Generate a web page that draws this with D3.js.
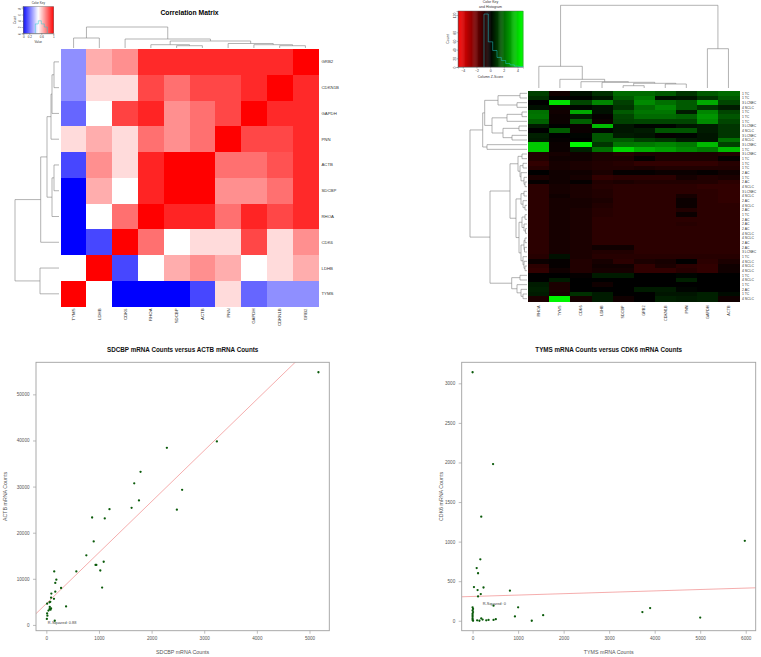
<!DOCTYPE html>
<html>
<head>
<meta charset="utf-8">
<script src="https://cdn.jsdelivr.net/npm/d3@7"></script>
<style>
  body { margin: 0; background: #fff; }
  svg { display: block; font-family: "Liberation Sans", Arial, sans-serif; }
</style>
</head>
<body>
<svg id="fig" width="761" height="657"></svg>
<script>
// ---------- correlation matrix (top left) ----------
const corrCols = ["TYMS", "LDHB", "CDK6", "RHOA", "SDCBP", "ACTB", "PNN", "GAPDH", "CDKN1B", "GRB2"];
const corrRows = ["GRB2", "CDKN1B", "GAPDH", "PNN", "ACTB", "SDCBP", "RHOA", "CDK6", "LDHB", "TYMS"];
const corrValues = [
  [0.28, 0.66, 0.72, 0.92, 0.92, 0.92, 0.92, 0.92, 0.92, 1.00],
  [0.28, 0.57, 0.57, 0.86, 0.78, 0.86, 0.86, 0.92, 1.00, 0.92],
  [0.20, 0.50, 0.87, 0.93, 0.72, 0.78, 0.86, 1.00, 0.92, 0.92],
  [0.57, 0.66, 0.57, 0.78, 0.72, 0.78, 1.00, 0.86, 0.86, 0.92],
  [0.14, 0.72, 0.57, 0.93, 1.00, 1.00, 0.78, 0.78, 0.84, 0.92],
  [0.00, 0.66, 0.50, 0.93, 1.00, 1.00, 0.72, 0.72, 0.78, 0.92],
  [0.00, 0.50, 0.78, 1.00, 0.93, 0.93, 0.78, 0.93, 0.86, 0.92],
  [0.00, 0.14, 1.00, 0.78, 0.50, 0.57, 0.57, 0.86, 0.57, 0.72],
  [0.50, 1.00, 0.14, 0.50, 0.66, 0.72, 0.66, 0.50, 0.57, 0.66],
  [1.00, 0.50, 0.00, 0.00, 0.00, 0.14, 0.57, 0.20, 0.28, 0.28]
];
// dendrograms as [height, left, right], leaves are indices
const corrColTree = [21, [10, 0, 1], [9, 2, [7, [3.3, 3, [2.3, 4, 5]], [4.5, 6, [3.3, 7, [2.3, 8, 9]]]]]];
const corrRowTree = [44, [18.3, [12, [8, [7, [5, 0, 1], 2], 3], [7, [5, 4, 5], 6]], 7], [19, 8, 9]];
const corrKeyTicks = [0, 0.2, 0.6, 1];
const corrKeyCountTicks = [0, 2, 4, 6, 8];
const corrKeyHistEdges = [0.4, 0.5, 0.6, 0.7, 0.8];
const corrKeyHistCounts = [3, 4, 3, 2];

// ---------- z-score heatmap (top right) ----------
const zCols = ["RHOA", "TYMS", "CDK6", "LDHB", "SDCBP", "GRB2", "CDKN1B", "PNN", "GAPDH", "ACTB"];
const zRowLabels = [
  "1 TC", "1 TC", "3 LCNEC", "4 SCLC", "1 TC", "1 TC", "1 TC", "3 LCNEC", "4 SCLC", "3 LCNEC",
  "4 SCLC", "3 LCNEC", "1 TC", "3 LCNEC", "1 TC", "1 TC", "1 TC", "2 AC", "1 TC", "2 AC",
  "4 SCLC", "3 LCNEC", "4 SCLC", "2 AC", "4 SCLC", "2 AC", "1 TC", "2 AC", "2 AC", "2 AC",
  "4 SCLC", "4 SCLC", "2 AC", "2 AC", "3 LCNEC", "1 TC", "4 SCLC", "4 SCLC", "4 SCLC", "1 TC",
  "4 SCLC", "1 TC", "2 AC", "1 TC", "4 SCLC"
];
const zValues = [
  [1.2, -0.3, 0.3, 0.9, 2.0, 2.0, 1.7, 1.0, 1.7, 2.0],
  [0.9, 0.0, 0.0, 0.4, 1.7, 2.3, 0.3, 0.4, 1.0, 1.7],
  [0.0, 4.2, 1.3, 2.5, 1.2, 2.6, 2.1, 1.7, 3.2, 1.3],
  [0.3, -0.2, 0.1, 0.3, 1.0, 2.0, 2.5, 1.7, 1.0, 0.5],
  [2.1, -0.3, 3.2, 0.3, 1.7, 2.2, 2.2, 0.5, 2.5, 1.3],
  [2.2, -0.2, 0.5, -0.1, 1.3, 2.0, 2.0, 1.8, 2.8, 1.6],
  [1.8, -0.2, 1.8, -0.2, 1.2, 1.3, 1.3, 1.3, 2.6, 1.3],
  [0.5, 0.0, -0.2, 3.5, 0.4, 0.1, 0.1, 0.4, 0.5, 1.0],
  [0.0, 1.7, -0.2, 0.1, 0.4, 0.5, 1.6, 1.6, 0.5, 1.0],
  [0.6, 0.0, 0.1, 1.6, 0.5, 0.4, -0.1, 0.1, 0.4, 1.0],
  [0.5, -0.1, 0.0, 1.6, 1.7, 1.2, 1.0, 0.5, 0.4, 2.1],
  [3.8, -0.2, 4.7, 1.0, 2.2, 2.3, 2.5, 2.3, 3.5, 1.2],
  [3.8, -0.2, 0.6, 2.1, 4.0, 3.3, 3.0, 2.6, 2.3, 3.5],
  [-0.6, -0.4, -0.3, -0.5, -0.7, -0.5, -0.5, -0.5, -0.5, -0.6],
  [-0.6, -0.3, -0.3, -0.5, -0.5, -0.1, -0.5, -0.5, -0.5, -0.1],
  [-0.9, -0.4, -0.5, -0.6, -0.7, -0.9, -0.9, -0.9, -0.9, -0.7],
  [-0.7, -0.4, -0.5, -0.6, -0.6, -0.5, -0.6, -0.6, -0.6, -0.6],
  [0.0, -0.3, -0.3, -0.5, -0.1, -0.1, -0.2, -0.2, -0.1, -0.3],
  [-0.5, -0.3, -0.4, -0.9, -0.8, -0.8, -0.8, -0.4, -0.6, -0.5],
  [-0.1, -0.3, -0.1, -0.6, -0.5, -0.6, -0.6, -0.6, -0.6, -0.8],
  [-0.8, -0.4, -0.5, -0.7, -0.8, -0.8, -0.8, -0.8, -0.9, -0.9],
  [-0.8, -0.4, -0.5, -0.6, -0.8, -0.8, -0.8, -0.8, -0.8, -0.9],
  [-0.8, -0.3, -0.5, -0.6, -0.8, -0.8, -0.8, -0.4, -0.8, -0.9],
  [-0.8, -0.4, -0.4, -0.5, -0.8, -0.8, -0.8, -0.2, -0.8, -0.9],
  [-0.8, -0.4, -0.4, -0.6, -0.8, -0.8, -0.8, -0.2, -0.8, -0.8],
  [-0.8, -0.4, -0.5, -0.7, -0.8, -0.8, -0.8, -0.6, -0.8, -0.8],
  [-0.8, -0.4, -0.5, -0.7, -0.8, -0.8, -0.8, -0.2, -0.8, -0.8],
  [-0.8, -0.4, -0.5, -0.8, -0.8, -0.8, -0.8, -0.8, -0.8, -0.8],
  [-0.8, -0.4, -0.5, -0.8, -0.8, -0.8, -0.8, -0.7, -0.8, -0.8],
  [-0.8, -0.4, -0.5, -0.8, -0.8, -0.8, -0.8, -0.8, -0.8, -0.8],
  [-0.8, -0.4, -0.5, -0.8, -0.8, -0.8, -0.8, -0.8, -0.8, -0.8],
  [-0.8, -0.4, -0.5, -0.8, -0.8, -0.8, -0.8, -0.8, -0.8, -0.8],
  [-0.8, -0.4, -0.5, -0.8, -0.8, -0.8, -0.8, -0.8, -0.8, -0.8],
  [-0.8, -0.4, -0.5, -0.3, -0.3, -0.8, -0.8, -0.8, -0.8, -0.8],
  [-0.8, -0.4, -0.5, -0.6, -0.6, -0.8, -0.8, -0.8, -0.8, -0.8],
  [-0.7, 0.3, -0.5, -0.7, -0.7, -0.7, -0.7, -0.7, -0.7, -0.7],
  [-0.2, -0.1, -0.6, -0.4, -0.8, -0.5, -0.4, 0.0, -0.8, -0.5],
  [-0.8, -0.1, -0.6, -0.3, -0.3, -0.9, -0.5, -0.8, -0.9, -0.3],
  [-0.9, -0.3, -0.6, -0.4, -0.4, -0.9, -0.9, -0.7, -0.9, -0.3],
  [0.0, 0.0, -0.1, 0.5, 0.5, 0.0, 0.0, 0.1, 0.0, 0.0],
  [0.0, 0.5, 0.0, 0.0, 0.0, 0.0, 0.0, 0.6, 0.0, 0.0],
  [0.5, -0.5, 0.0, -0.3, 0.0, 0.0, 0.0, 0.0, 0.0, 0.0],
  [0.6, -0.5, 0.0, 0.0, 0.0, 0.5, 0.5, 0.1, 0.0, 0.0],
  [0.5, -0.4, 0.9, 0.5, 0.0, 0.0, 0.4, 0.4, 0.6, 0.2],
  [-0.5, 4.6, -0.4, 0.5, -0.3, 0.0, 0.6, 0.5, 0.6, -0.3]
];
const zColTree = [82.7, [21.7, 0, [8.7, 1, [6.3, 2, [5.7, 3, [4.7, [2.3, 4, 5], [4, 6, 7]]]]]], [39.3, 8, 9]];
const zRowTree = [57,
  [44.3,
    [42.3, [29, [7, 0, 1], [10, 2, 3]], [35, [20, [5, 4, 5], 6], [24, [8, 7, 8], [15, 9, 10]]]],
    [40, 11, 12]],
  [37,
    [17,
      [9, [5, 13, 14], [7, [4, 15, 16], [6, 17, [3, 18, [2, 19, 20]]]]],
      [11, [6, [3, 21, 22], [4, 23, [2, 24, 25]]],
        [8, [5, [2, 26, 27], [3, 28, [1.5, 29, 30]]],
          [6, [3, [2, 31, 32], [2.5, 33, 34]], [4, 35, [3, 36, [2, 37, 38]]]]]]],
    [15.3, [7, 39, 40], [10, 41, [6, 42, [4, 43, 44]]]]]
];
const zKeyRange = [-4.7, 4.8];
const zKeyTicks = [-4, -2, 0, 2, 4];
const zKeyCountTicks = [0, 20, 40, 60, 80, 120];
const zKeyHistEdges = [-0.9, -0.27, 0.37, 1.0, 1.63, 2.27, 2.9, 3.53, 4.17, 4.8];
const zKeyHistCounts = [122, 58, 38, 22, 15, 8, 5, 2, 1];

// ---------- scatter: SDCBP vs ACTB (bottom left) ----------
const sdcbpCounts = [5170, 3240, 2290, 1790, 1670, 1760, 2580, 2480, 1620, 1200, 870, 1110, 900, 760,
  935, 950, 1090, 1025, 1060, 570, 375, 150, 190, 170, 280, 95, 170, 145, 90, 60, 75, 15, 65, 90, 60,
  80, 40, 15, 20, 10, 160];
const actbCounts = [54800, 39800, 38400, 33200, 30700, 27000, 29300, 25000, 25400, 25100, 23300, 23100,
  18100, 15100, 13000, 13000, 13700, 11800, 8100, 11600, 4000, 11600, 9800, 9100, 8000, 6800, 7200,
  5650, 5900, 4900, 5000, 4600, 3900, 3600, 3400, 3300, 3100, 2500, 2000, 1300, 900];
const sdcbpFit = [4620, 11.07]; // intercept, slope
const sdcbpRSquared = "R-Squared:  0.88";
const sdcbpXTicks = [0, 1000, 2000, 3000, 4000, 5000];
const actbYTicks = [0, 10000, 20000, 30000, 40000, 50000];

// ---------- scatter: TYMS vs CDK6 (bottom right) ----------
const tymsCounts = [0, 450, 190, 170, 90, 120, 30, 240, 110, 180, 120, 820, 460, 1000, 930, 1550,
  1300, 3730, 3900, 5000, 5980, 0, 10, 0, 10, 0, 0, 0, 0, 0, 10, 100, 150, 190, 220, 300, 350, 460, 510];
const cdk6Counts = [3140, 1980, 1315, 776, 666, 600, 426, 420, 388, 337, 308, 380, 190, 170, 55, 70,
  0, 110, 160, 40, 1010, 170, 150, 130, 110, 90, 70, 50, 30, 10, 0, 5, 0, 30, 15, 5, 10, 10, 20];
const tymsFit = [307, 0.0176];
const tymsRSquared = "R-Squared:  0";
const tymsXTicks = [0, 1000, 2000, 3000, 4000, 5000, 6000];
const cdk6YTicks = [0, 500, 1000, 1500, 2000, 2500, 3000];

const svg = d3.select("#fig");
const labelColor = "#333";

const toNode = (t) =>
  typeof t === "number" ? { leaf: t, h: 0 } : { h: t[0], children: [toNode(t[1]), toNode(t[2])] };

// draws an hclust style dendrogram; leafPos maps leaf index, hPos maps height
function drawTree(tree, leafPos, hPos, orient) {
  const root = d3.hierarchy(toNode(tree));
  root.eachAfter((n) => {
    n.p = n.children ? d3.mean(n.children, (c) => c.p) : leafPos(n.data.leaf);
  });
  const path = (n) => {
    const [a, b] = n.children;
    return orient === "top"
      ? `M${a.p},${hPos(a.data.h)}V${hPos(n.data.h)}H${b.p}V${hPos(b.data.h)}`
      : `M${hPos(a.data.h)},${a.p}H${hPos(n.data.h)}V${b.p}H${hPos(b.data.h)}`;
  };
  svg.append("g")
    .selectAll("path")
    .data(root.descendants().filter((n) => n.children))
    .join("path")
    .attr("d", path)
    .attr("fill", "none")
    .attr("stroke", "#808080")
    .attr("stroke-width", 0.6);
}

function stepPath(edges, counts, x, y) {
  let d = `M${x(edges[0])},${y(0)}`;
  counts.forEach((c, i) => { d += `V${y(c)}H${x(edges[i + 1])}`; });
  return d + `V${y(0)}`;
}

function colorKey({ x0, x1, y0, y1, domain, color, ticks, countTicks, countMax, edges, counts, title, xLabel, fs }) {
  const kx = d3.scaleLinear().domain(domain).range([x0, x1]);
  const ky = d3.scaleLinear().domain([0, countMax]).range([y1, y0]);
  const g = svg.append("g");
  const n = 60;
  const step = (domain[1] - domain[0]) / n;
  g.selectAll("rect")
    .data(d3.range(n))
    .join("rect")
    .attr("x", (i) => kx(domain[0] + i * step))
    .attr("y", y0)
    .attr("width", (x1 - x0) / n + 0.4)
    .attr("height", y1 - y0)
    .attr("fill", (i) => color(domain[0] + (i + 0.5) * step));
  g.append("rect").attr("x", x0).attr("y", y0).attr("width", x1 - x0).attr("height", y1 - y0)
    .attr("fill", "none").attr("stroke", "#555").attr("stroke-width", 0.4);
  g.append("path").attr("d", stepPath(edges, counts, kx, ky))
    .attr("fill", "none").attr("stroke", "#22c8d0").attr("stroke-width", 0.5);
  const ax = g.append("g").attr("transform", `translate(0,${y1})`)
    .call(d3.axisBottom(kx).tickValues(ticks).tickSize(1.5).tickPadding(1).tickFormat(d3.format("")));
  const ay = g.append("g").attr("transform", `translate(${x0},0)`)
    .call(d3.axisLeft(ky).tickValues(countTicks).tickSize(1.5).tickPadding(1));
  [ax, ay].forEach((a) => {
    a.select(".domain").attr("stroke", "#555").attr("stroke-width", 0.4);
    a.selectAll("line").attr("stroke", "#555").attr("stroke-width", 0.4);
    a.selectAll("text").attr("font-size", fs).attr("fill", labelColor);
  });
  ay.selectAll("text").attr("text-anchor", "middle").attr("dy", "0")
    .attr("transform", function () { return `rotate(-90,${d3.select(this).attr("x")},0)`; });
  title.forEach((t, i) =>
    g.append("text").attr("x", (x0 + x1) / 2).attr("y", y0 - 3.2 - (title.length - 1 - i) * fs * 1.25)
      .attr("text-anchor", "middle").attr("font-size", fs).attr("fill", labelColor).text(t));
  g.append("text").attr("x", (x0 + x1) / 2).attr("y", y1 + fs * 3.1)
    .attr("text-anchor", "middle").attr("font-size", fs).attr("fill", labelColor).text(xLabel);
  g.append("text").attr("transform", `translate(${x0 - fs * 2.6},${(y0 + y1) / 2}) rotate(-90)`)
    .attr("text-anchor", "middle").attr("font-size", fs).attr("fill", labelColor).text("Count");
}

// ===== correlation heatmap =====
{
  const x = d3.scaleBand().domain(d3.range(corrCols.length)).range([60.7, 318.3]);
  const y = d3.scaleBand().domain(d3.range(corrRows.length)).range([49, 306.7]);
  const color = d3.scaleLinear().domain([0, 0.5, 1]).range(["#0000ff", "#ffffff", "#ff0000"]);
  const cells = corrValues.flatMap((row, i) => row.map((v, j) => ({ i, j, v })));
  svg.append("g").attr("shape-rendering", "crispEdges")
    .selectAll("rect").data(cells).join("rect")
    .attr("x", (d) => x(d.j)).attr("y", (d) => y(d.i))
    .attr("width", x.bandwidth() + 0.5).attr("height", y.bandwidth() + 0.5)
    .attr("fill", (d) => color(d.v));
  svg.append("g").selectAll("text").data(corrRows).join("text")
    .attr("x", 321.5).attr("y", (d, i) => y(i) + y.bandwidth() / 2 + 1.5)
    .attr("font-size", 4.3).attr("fill", labelColor).text((d) => d);
  svg.append("g").selectAll("text").data(corrCols).join("text")
    .attr("transform", (d, i) => `translate(${x(i) + x.bandwidth() / 2 + 1.5},308.5) rotate(-90)`)
    .attr("text-anchor", "end").attr("font-size", 4.3).attr("fill", labelColor).text((d) => d);
  drawTree(corrColTree, (i) => x(i) + x.bandwidth() / 2, d3.scaleLinear().domain([0, 21]).range([48, 27]), "top");
  drawTree(corrRowTree, (i) => y(i) + y.bandwidth() / 2, d3.scaleLinear().domain([0, 44]).range([59, 15]), "left");
  svg.append("text").attr("x", 189.5).attr("y", 14.8).attr("text-anchor", "middle")
    .attr("font-size", 6.8).attr("font-weight", "bold").text("Correlation Matrix");
  colorKey({
    x0: 23.3, x1: 53.3, y0: 6.7, y1: 33.3, domain: [0, 1], color, ticks: corrKeyTicks,
    countTicks: corrKeyCountTicks, countMax: 8.5, edges: corrKeyHistEdges, counts: corrKeyHistCounts,
    title: ["Color Key"], xLabel: "Value", fs: 3
  });
}

// ===== z-score heatmap =====
{
  const x = d3.scaleBand().domain(d3.range(zCols.length)).range([528.3, 739]);
  const y = d3.scaleBand().domain(d3.range(zRowLabels.length)).range([91, 301]);
  const color = d3.scaleLinear().domain([zKeyRange[0], 0, zKeyRange[1]]).range(["#ff0000", "#000000", "#00ff00"]);
  const cells = zValues.flatMap((row, i) => row.map((v, j) => ({ i, j, v })));
  svg.append("g").attr("shape-rendering", "crispEdges")
    .selectAll("rect").data(cells).join("rect")
    .attr("x", (d) => x(d.j)).attr("y", (d) => y(d.i))
    .attr("width", x.bandwidth() + 0.5).attr("height", y.bandwidth() + 0.5)
    .attr("fill", (d) => color(d.v));
  svg.append("g").selectAll("text").data(zRowLabels).join("text")
    .attr("x", 742).attr("y", (d, i) => y(i) + y.bandwidth() / 2 + 1.2)
    .attr("font-size", 3.4).attr("fill", labelColor).text((d) => d);
  svg.append("g").selectAll("text").data(zCols).join("text")
    .attr("transform", (d, i) => `translate(${x(i) + x.bandwidth() / 2 + 1.3},305.5) rotate(-90)`)
    .attr("text-anchor", "end").attr("font-size", 3.8).attr("fill", labelColor).text((d) => d);
  drawTree(zColTree, (i) => x(i) + x.bandwidth() / 2, d3.scaleLinear().domain([0, 82.7]).range([88, 5.3]), "top");
  drawTree(zRowTree, (i) => y(i) + y.bandwidth() / 2, d3.scaleLinear().domain([0, 57]).range([527, 470]), "left");
  colorKey({
    x0: 458, x1: 523, y0: 11, y1: 67, domain: zKeyRange, color, ticks: zKeyTicks,
    countTicks: zKeyCountTicks, countMax: 129, edges: zKeyHistEdges, counts: zKeyHistCounts,
    title: ["Color Key", "and Histogram"], xLabel: "Column Z-Score", fs: 3.5
  });
}

// ===== scatter plots =====
function scatter({ x0, x1, xs, ys, fit, rLabel, rAt, xTicks, yTicks, title, xLabel, yLabel, yLabelX, clipId }) {
  const y0 = 362.3, y1 = 630.7;
  const pad = (e) => [e[0] - (e[1] - e[0]) * 0.04, e[1] + (e[1] - e[0]) * 0.04];
  const x = d3.scaleLinear().domain(pad(d3.extent(xs))).range([x0, x1]);
  const y = d3.scaleLinear().domain(pad(d3.extent(ys))).range([y1, y0]);
  const g = svg.append("g");
  g.append("clipPath").attr("id", clipId).append("rect")
    .attr("x", x0).attr("y", y0).attr("width", x1 - x0).attr("height", y1 - y0);
  const [xa, xb] = x.domain();
  g.append("line").attr("clip-path", `url(#${clipId})`)
    .attr("x1", x(xa)).attr("y1", y(fit[0] + fit[1] * xa))
    .attr("x2", x(xb)).attr("y2", y(fit[0] + fit[1] * xb))
    .attr("stroke", "#f08a8a").attr("stroke-width", 0.7);
  g.append("g").selectAll("circle").data(xs).join("circle")
    .attr("cx", (d) => x(d)).attr("cy", (d, i) => y(ys[i])).attr("r", 1.15)
    .attr("fill", "#0a5a0a");
  g.append("text").attr("x", x(rAt[0])).attr("y", y(rAt[1]) + 1.4).attr("text-anchor", "middle")
    .attr("font-size", 3.9).attr("fill", "#444").text(rLabel);
  g.append("rect").attr("x", x0).attr("y", y0).attr("width", x1 - x0).attr("height", y1 - y0)
    .attr("fill", "none").attr("stroke", "#a0a0a0").attr("stroke-width", 0.9);
  const ax = g.append("g").attr("transform", `translate(0,${y1})`)
    .call(d3.axisBottom(x).tickValues(xTicks).tickSize(3).tickPadding(3.5).tickFormat(d3.format("d")));
  const ay = g.append("g").attr("transform", `translate(${x0},0)`)
    .call(d3.axisLeft(y).tickValues(yTicks).tickSize(3).tickPadding(3.5).tickFormat(d3.format("d")));
  [ax, ay].forEach((a) => {
    a.select(".domain").remove();
    a.selectAll("line").attr("stroke", "#a0a0a0").attr("stroke-width", 0.7);
    a.selectAll("text").attr("font-size", 4.6).attr("fill", "#555");
  });
  g.append("text").attr("x", (x0 + x1) / 2).attr("y", 352.3).attr("text-anchor", "middle")
    .attr("font-size", 6.3).attr("font-weight", "bold").attr("fill", "#111").text(title);
  g.append("text").attr("x", (x0 + x1) / 2).attr("y", 654).attr("text-anchor", "middle")
    .attr("font-size", 5.3).attr("fill", "#555").text(xLabel);
  g.append("text").attr("transform", `translate(${yLabelX},${(y0 + y1) / 2}) rotate(-90)`)
    .attr("text-anchor", "middle").attr("font-size", 5.3).attr("fill", "#555").text(yLabel);
}

scatter({
  x0: 36, x1: 329.3, xs: sdcbpCounts, ys: actbCounts, fit: sdcbpFit,
  rLabel: sdcbpRSquared, rAt: [300, 560], xTicks: sdcbpXTicks, yTicks: actbYTicks,
  title: "SDCBP mRNA Counts versus ACTB mRNA Counts", xLabel: "SDCBP mRNA Counts",
  yLabel: "ACTB mRNA Counts", yLabelX: 7, clipId: "clipA"
});
scatter({
  x0: 461.7, x1: 755.7, xs: tymsCounts, ys: cdk6Counts, fit: tymsFit,
  rLabel: tymsRSquared, rAt: [477, 220], xTicks: tymsXTicks, yTicks: cdk6YTicks,
  title: "TYMS mRNA Counts versus CDK6 mRNA Counts", xLabel: "TYMS mRNA Counts",
  yLabel: "CDK6 mRNA Counts", yLabelX: 442.5, clipId: "clipB"
});
</script>
</body>
</html>
